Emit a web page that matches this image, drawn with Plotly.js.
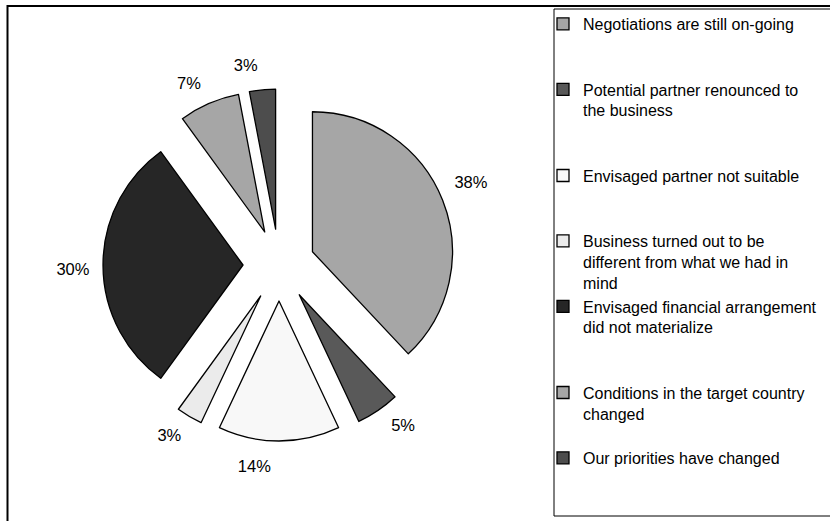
<!DOCTYPE html>
<html>
<head>
<meta charset="utf-8">
<script src="https://cdn.plot.ly/plotly-3.0.1.min.js"></script>
<style>
html,body{margin:0;padding:0;background:#fff;}
#chart{width:830px;height:521px;}
#chart path.textline{display:none !important;}
</style>
</head>
<body>
<div id="chart"></div>
<script>
// ---- data ----
const categories = [
  "Negotiations are still on-going",
  "Potential partner renounced to<br>the business",
  "Envisaged partner not suitable",
  "Business turned out to be<br>different from what we had in<br>mind",
  "Envisaged financial arrangement<br>did not materialize",
  "Conditions in the target country<br>changed",
  "Our priorities have changed"
];
const shares = [38, 5, 14, 3, 30, 7, 3];

// ---- style ----
const sliceColors = ["#a6a6a6", "#595959", "#f8f8f8", "#ebebeb", "#262626", "#a6a6a6", "#4d4d4d"];
const legendSlots = [3, 4, 3, 3, 4, 3, 1];      // lines reserved per legend entry (spacing)
const labelPadAbove = [0, 3, 3, 3, 4, 0, 0];    // invisible spacer lines: push outside labels away from the pie
const labelPadBelow = [4, 3, 0, 0, 2, 2, 0];
const FONT = "Liberation Sans, Arial, sans-serif";
const W = 830, H = 521;

const legendLabels = categories.map((c, i) => {
  const n = c.split("<br>").length;
  let s = c;
  for (let k = n; k < legendSlots[i]; k++) s += "<br>\u00a0";
  return s;
});

const textTemplates = shares.map((v, i) => {
  const pad = "\u00a0";
  const above = Array(labelPadAbove[i]).fill(pad);
  const below = Array(labelPadBelow[i]).fill(pad);
  return above.concat(["<span style='font-size:16.5px'>%{percent:.0%}</span>"], below).join("<br>");
});

const trace = {
  type: "pie",
  labels: legendLabels,
  values: shares,
  sort: false,
  direction: "clockwise",
  rotation: 0,
  pull: 0.257,
  marker: { colors: sliceColors, line: { color: "#000", width: 1.3 } },
  texttemplate: textTemplates,
  textposition: "outside",
  outsidetextfont: { family: FONT, size: 6, color: "#000" },
  hoverinfo: "none",
  domain: { x: [103 / W, 455 / W], y: [1 - 441 / H, 1 - 89 / H] }
};

const layout = {
  width: W, height: H,
  margin: { l: 0, r: 0, t: 0, b: 0, autoexpand: false },
  paper_bgcolor: "#fff",
  plot_bgcolor: "#fff",
  font: { family: FONT, size: 16, color: "#000" },
  showlegend: true,
  legend: {
    x: 543 / W, xanchor: "left",
    y: 1 - 7 / H, yanchor: "top",
    valign: "top",
    bgcolor: "rgba(0,0,0,0)",
    borderwidth: 0,
    traceorder: "normal",
    font: { family: FONT, size: 16, color: "#000" }
  },
  shapes: [
    { type: "rect", xref: "paper", yref: "paper", layer: "below",
      x0: 7.5 / W, x1: 1.1, y0: -0.1, y1: 1 - 6 / H,
      line: { color: "#000", width: 2 }, fillcolor: "rgba(0,0,0,0)" },
    { type: "rect", xref: "paper", yref: "paper", layer: "below",
      x0: 554 / W, x1: 1.1, y0: 1 - 516 / H, y1: 1 - 9 / H,
      line: { color: "#000", width: 1 }, fillcolor: "rgba(0,0,0,0)" }
  ]
};

Plotly.newPlot("chart", [trace], layout, { staticPlot: true, displayModeBar: false });
</script>
</body>
</html>
